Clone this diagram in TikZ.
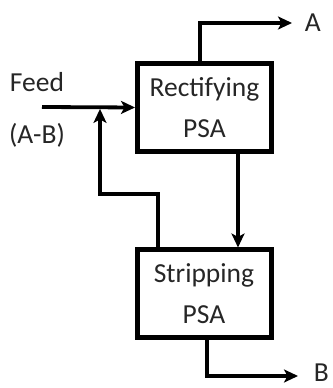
\documentclass[tikz,border=0pt]{standalone}
\usepackage{fontspec}
\setmainfont{Carlito}
\usetikzlibrary{positioning}
\usetikzlibrary{arrows.meta}

\begin{document}
\begin{tikzpicture}[x=1pt,y=1pt,line width=3.8pt,
  psa/.style={draw,line width=5pt,minimum width=134pt,minimum height=88pt,
    align=center,text=black!85,font=\fontsize{27.5}{41}\selectfont},
  lbl/.style={text=black!85,font=\fontsize{27.5}{33}\selectfont,inner sep=0pt},
  >={Stealth[length=14pt,width=13pt,inset=3.5pt]}]
\useasboundingbox (0,0) rectangle (332,388);

\node [psa] (rect) at (204.5,280.5) {Rectifying\\PSA};
\node [psa] (strip) at (204,94) {Stripping\\PSA};

% feed stream and its label
\coordinate (feedin) at (42,281);
\coordinate (mix) at (100,281);
\node [lbl] (feed) at (37,306) {Feed};
\node [lbl] (ab) at (37,253) {(A-B)};
\draw [->] (feedin) -- (rect.west);

% products
\coordinate (aout) at (292,365);
\coordinate (bout) at (298,12);
\node [lbl,right=11pt of aout] (a) {A};
\node [lbl,right=14pt of bout,yshift=3pt] (b) {B};
\draw [->] ([xshift=-4.5pt]rect.north) |- (aout);
\draw [->] ([xshift=3pt]strip.south) |- (bout);

% rectifying bottoms into stripping, stripping tops back to feed
\draw [->] ([xshift=33.5pt]rect.south) -- ([xshift=34pt]strip.north);
\draw [->] ([xshift=-46pt]strip.north) |- (100,194) -- ([yshift=-1.9pt]mix);
\end{tikzpicture}
\end{document}
